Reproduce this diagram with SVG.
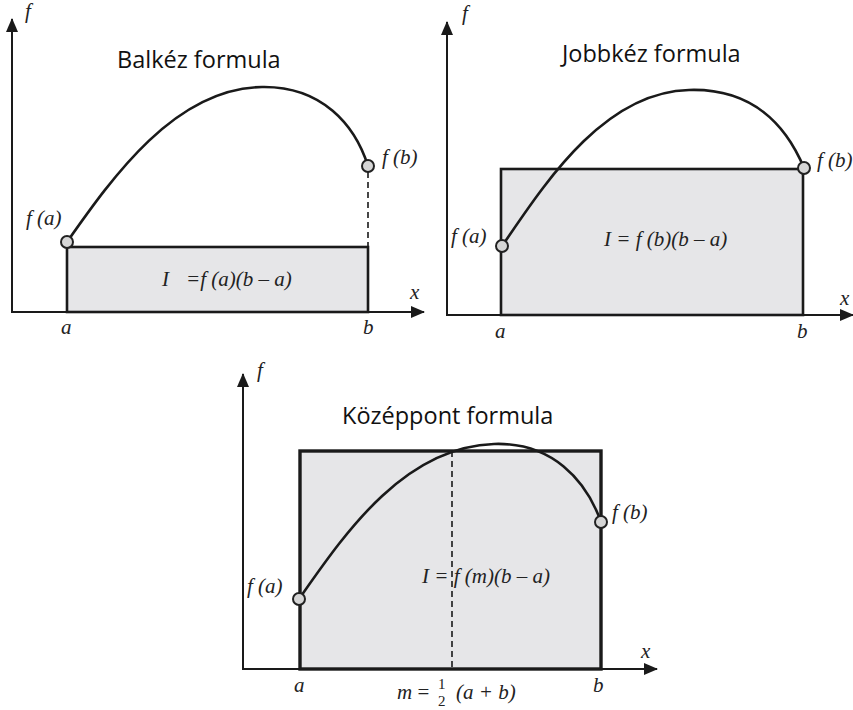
<svg xmlns="http://www.w3.org/2000/svg" width="853" height="710" viewBox="0 0 853 710">
<style>
.bg{fill:#ffffff}
.axis{stroke:#1a1a1a;stroke-width:2;fill:none}
.box{fill:#e6e6e8;stroke:#1a1a1a;stroke-width:2.6}
.box3{fill:#e6e6e8;stroke:#1a1a1a;stroke-width:3.4}
.curve{fill:none;stroke:#1a1a1a;stroke-width:2.6}
.dash{stroke:#1a1a1a;stroke-width:1.6;stroke-dasharray:6 4;fill:none}
.pt{fill:#d6d6d6;stroke:#222;stroke-width:2}
.title{font-family:"Open Sans","Noto Sans",sans-serif;font-size:23.5px;fill:#111}
.m{font-family:"Liberation Serif","DejaVu Serif",serif;font-style:italic;font-size:21px;fill:#222}
.n{font-family:"Liberation Serif","DejaVu Serif",serif;font-size:15px;fill:#222}
</style>
<defs>
<marker id="ah" viewBox="0 0 14 12" refX="13" refY="6" markerWidth="14" markerHeight="12" markerUnits="userSpaceOnUse" orient="auto">
<path d="M0,0 L14,6 L0,12 Z" fill="#1a1a1a"/>
</marker>
</defs>
<rect class="bg" x="0" y="0" width="853" height="710"/>

<g id="panel1">
  <g id="p1-axes">
    <line class="axis" x1="12" y1="312" x2="12" y2="19" marker-end="url(#ah)"/>
    <line class="axis" x1="11" y1="312" x2="424" y2="312" marker-end="url(#ah)"/>
    <text class="m" x="25" y="18">f</text>
    <text class="m" x="410" y="299">x</text>
    <text class="m" x="61" y="334">a</text>
    <text class="m" x="363" y="334">b</text>
  </g>
  <text class="title" x="117" y="68">Balkéz formula</text>
  <rect id="p1-rect" class="box" x="67" y="247" width="301" height="65"/>
  <line class="dash" x1="368" y1="172" x2="368" y2="247"/>
  <path class="curve" d="M67,242 C112,178 175,88 262,87 C322,86 355,125 368,166"/>
  <circle class="pt" cx="67" cy="242" r="6"/>
  <circle class="pt" cx="368" cy="166" r="6"/>
  <text class="m" x="26" y="225">f (a)</text>
  <text class="m" x="382" y="164">f (b)</text>
  <text class="m" x="162" y="286">I</text>
  <text class="m" x="186" y="286">=f (a)(b – a)</text>
</g>

<g id="panel2">
  <g id="p2-axes">
    <line class="axis" x1="447" y1="315" x2="447" y2="22" marker-end="url(#ah)"/>
    <line class="axis" x1="446" y1="315" x2="853" y2="315" marker-end="url(#ah)"/>
    <text class="m" x="462" y="20">f</text>
    <text class="m" x="840" y="305">x</text>
    <text class="m" x="495" y="338">a</text>
    <text class="m" x="797" y="338">b</text>
  </g>
  <text class="title" x="562" y="62">Jobbkéz formula</text>
  <rect id="p2-rect" class="box" x="501" y="169" width="302" height="146"/>
  <path class="curve" d="M502,246 C542,188 602,92 689,90 C752,88 786,125 804,168"/>
  <circle class="pt" cx="502" cy="246" r="6"/>
  <circle class="pt" cx="804" cy="168" r="6"/>
  <text class="m" x="451" y="243">f (a)</text>
  <text class="m" x="817" y="167">f (b)</text>
  <text class="m" x="604" y="246">I = f (b)(b – a)</text>
</g>

<g id="panel3">
  <g id="p3-axes">
    <line class="axis" x1="243" y1="669" x2="243" y2="374" marker-end="url(#ah)"/>
    <line class="axis" x1="242" y1="669" x2="657" y2="669" marker-end="url(#ah)"/>
    <text class="m" x="257" y="377">f</text>
    <text class="m" x="641" y="658">x</text>
    <text class="m" x="294" y="692">a</text>
    <text class="m" x="593" y="692">b</text>
  </g>
  <text class="title" x="342" y="424">Középpont formula</text>
  <rect id="p3-rect" class="box3" x="300" y="451" width="301" height="218"/>
  <line class="dash" x1="452" y1="451" x2="452" y2="669"/>
  <path class="curve" d="M299,599 C342,538 402,447 494,444 C552,442 586,480 601,522"/>
  <circle class="pt" cx="299" cy="599" r="6"/>
  <circle class="pt" cx="601" cy="522" r="6"/>
  <text class="m" x="247" y="593">f (a)</text>
  <text class="m" x="612" y="519">f (b)</text>
  <text class="m" x="422" y="583">I = f (m)(b – a)</text>
  <text class="m" x="397" y="699">m <tspan font-style="normal">=</tspan></text>
  <text class="n" x="438" y="689">1</text>
  <text class="n" x="438" y="706">2</text>
  <text class="m" x="456" y="699">(a + b)</text>
</g>
</svg>
